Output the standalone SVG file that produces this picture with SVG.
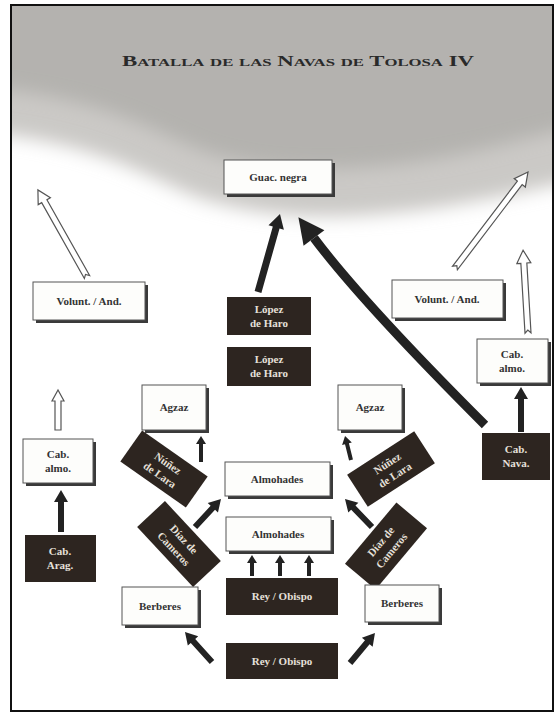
<svg xmlns="http://www.w3.org/2000/svg" width="556" height="717" viewBox="0 0 556 717">
<defs>
<style>
.wb{fill:#fdfdfb;stroke:#555;stroke-width:1}
.sh{fill:#3a3a3a}
.db{fill:#2d2520}
.wt{font-family:"Liberation Serif",serif;font-weight:bold;font-size:11px;fill:#333;text-anchor:middle}
.dt{font-family:"Liberation Serif",serif;font-weight:bold;font-size:11px;fill:#e6e0da;text-anchor:middle}
.sa{fill:#222}
.ha{fill:#fff;stroke:#555;stroke-width:1.2;stroke-linejoin:miter}
</style>
<filter id="blur" x="-20%" y="-20%" width="140%" height="140%"><feGaussianBlur stdDeviation="9"/></filter>
<clipPath id="frameclip"><rect x="11" y="5" width="542" height="706"/></clipPath>
</defs>
<rect width="556" height="717" fill="#fff"/>
<g id="background" clip-path="url(#frameclip)">
<path d="M-40 -40 H600 V175 C530 190 460 208 380 214 C310 220 250 214 200 198 C150 180 100 140 -40 130 Z" fill="#cbc9c6" filter="url(#blur)"/>
<path d="M-40 -40 H600 V120 C520 140 450 160 380 166 C310 172 250 168 200 150 C150 130 100 95 -40 85 Z" fill="#b4b2af" filter="url(#blur)"/>
</g>
<rect x="11" y="5" width="542" height="706" fill="none" stroke="#111" stroke-width="2"/>
<text x="298" y="66" font-family="Liberation Serif,serif" font-weight="bold" font-size="15" fill="#2a2a2a" text-anchor="middle" style="font-variant:small-caps" textLength="352" lengthAdjust="spacingAndGlyphs">Batalla de las Navas de Tolosa IV</text>

<g id="connectors">
<path class="sa" d="M0,-3.5 H67 V-8 L81,0 L67,8 V3.5 H0 Z" transform="translate(258,292) rotate(-74.25)"/>
<path d="M485 425 Q362 302 314 238" fill="none" stroke="#222" stroke-width="9"/>
<polygon class="sa" points="0,-13 26,0 0,13" transform="translate(314,238) rotate(-126.87)"/>
<path class="sa" d="M0,-3 H33 V-7 L45,0 L33,7 V3 H0 Z" transform="translate(521,432) rotate(-90)"/>
<path class="sa" d="M0,-3 H30 V-7 L42,0 L30,7 V3 H0 Z" transform="translate(61,532) rotate(-90)"/>
<path class="sa" d="M0,-2 H18 V-5 L26,0 L18,5 V2 H0 Z" transform="translate(201,462) rotate(-90)"/>
<path class="sa" d="M0,-2 H16.7 V-5 L24.7,0 L16.7,5 V2 H0 Z" transform="translate(351,460) rotate(-104)"/>
<path class="sa" d="M0,-3 H26.2 V-7 L38.2,0 L26.2,7 V3 H0 Z" transform="translate(195,527) rotate(-47.1)"/>
<path class="sa" d="M0,-3 H26.9 V-7 L38.9,0 L26.9,7 V3 H0 Z" transform="translate(372,527) rotate(-133.96)"/>
<path class="sa" d="M0,-2 H13 V-5 L21,0 L13,5 V2 H0 Z" transform="translate(252,576) rotate(-90)"/>
<path class="sa" d="M0,-2 H13 V-5 L21,0 L13,5 V2 H0 Z" transform="translate(280,576) rotate(-90)"/>
<path class="sa" d="M0,-2 H13 V-5 L21,0 L13,5 V2 H0 Z" transform="translate(309,576) rotate(-90)"/>
<path class="sa" d="M0,-3 H28.4 V-7 L40.4,0 L28.4,7 V3 H0 Z" transform="translate(212,662) rotate(-131.99)"/>
<path class="sa" d="M0,-3 H27 V-7 L39,0 L27,7 V3 H0 Z" transform="translate(350,663) rotate(-50.19)"/>
<path class="ha" d="M0,-3 H87 V-7 L100,0 L87,7 V3 H0 L3,0 Z" transform="translate(87,277) rotate(-119.4)"/>
<path class="ha" d="M0,-3 H107 V-7 L120.6,0 L107,7 V3 H0 L3,0 Z" transform="translate(455,268) rotate(-52.75)"/>
<path class="ha" d="M0,-3 H70 V-7 L83,0 L70,7 V3 H0 L3,0 Z" transform="translate(528,333) rotate(-93.4)"/>
<path class="ha" d="M0,-3 H29 V-6 L40,0 L29,6 V3 H0 Z" transform="translate(58,430) rotate(-90)"/>
</g>

<g id="guac"><rect class="sh" x="227" y="163" width="108" height="34"/><rect class="wb" x="224" y="160" width="108" height="34"/><text class="wt" x="278" y="181">Guac. negra</text></g>
<g id="volunt-l"><rect class="sh" x="36" y="285" width="112" height="38"/><rect class="wb" x="33" y="282" width="112" height="38"/><text class="wt" x="89" y="305">Volunt. / And.</text></g>
<g id="volunt-r"><rect class="sh" x="395" y="283" width="111" height="38"/><rect class="wb" x="392" y="280" width="111" height="38"/><text class="wt" x="447" y="303">Volunt. / And.</text></g>
<g id="lopez1"><rect class="db" x="227" y="297" width="84" height="38"/><text class="dt" x="269" y="313">López</text><text class="dt" x="269" y="327">de Haro</text></g>
<g id="lopez2"><rect class="db" x="227" y="347" width="84" height="39"/><text class="dt" x="269" y="363">López</text><text class="dt" x="269" y="377">de Haro</text></g>
<g id="calmo-r"><rect class="sh" x="480" y="342" width="71" height="44"/><rect class="wb" x="477" y="339" width="71" height="44"/><text class="wt" x="512" y="358">Cab.</text><text class="wt" x="512" y="372">almo.</text></g>
<g id="cnava"><rect class="db" x="482" y="433" width="68" height="47"/><text class="dt" x="516" y="453">Cab.</text><text class="dt" x="516" y="467">Nava.</text></g>
<g id="agzaz-l"><rect class="sh" x="145" y="388" width="64" height="45"/><rect class="wb" x="142" y="385" width="64" height="45"/><text class="wt" x="174" y="411">Agzaz</text></g>
<g id="agzaz-r"><rect class="sh" x="341" y="388" width="64" height="45"/><rect class="wb" x="338" y="385" width="64" height="45"/><text class="wt" x="370" y="411">Agzaz</text></g>
<g id="calmo-l"><rect class="sh" x="26" y="442" width="70" height="44"/><rect class="wb" x="23" y="439" width="70" height="44"/><text class="wt" x="58" y="458">Cab.</text><text class="wt" x="58" y="472">almo.</text></g>
<g id="carag"><rect class="db" x="25" y="535" width="71" height="47"/><text class="dt" x="60" y="555">Cab.</text><text class="dt" x="60" y="569">Arag.</text></g>
<g id="nunez-l" transform="translate(164,469) rotate(35)"><rect class="db" x="-40" y="-19" width="80" height="38"/><text class="dt" x="0" y="-3">Núñez</text><text class="dt" x="0" y="11">de Lara</text></g>
<g id="nunez-r" transform="translate(391,469) rotate(-33)"><rect class="db" x="-40" y="-19" width="80" height="38"/><text class="dt" x="0" y="-3">Núñez</text><text class="dt" x="0" y="11">de Lara</text></g>
<g id="almo1"><rect class="sh" x="228" y="465" width="105" height="34"/><rect class="wb" x="225" y="462" width="105" height="34"/><text class="wt" x="277" y="483">Almohades</text></g>
<g id="almo2"><rect class="sh" x="229" y="520" width="105" height="34"/><rect class="wb" x="226" y="517" width="105" height="34"/><text class="wt" x="278" y="538">Almohades</text></g>
<g id="diaz-l" transform="translate(179,544) rotate(47)"><rect class="db" x="-41" y="-19" width="82" height="38"/><text class="dt" x="0" y="-3">Díaz de</text><text class="dt" x="0" y="11">Cameros</text></g>
<g id="diaz-r" transform="translate(386,546) rotate(-50)"><rect class="db" x="-40" y="-20" width="80" height="40"/><text class="dt" x="0" y="-3">Díaz de</text><text class="dt" x="0" y="11">Cameros</text></g>
<g id="rey1"><rect class="db" x="226" y="578" width="112" height="37"/><text class="dt" x="282" y="600">Rey / Obispo</text></g>
<g id="rey2"><rect class="db" x="226" y="643" width="112" height="36"/><text class="dt" x="282" y="665">Rey / Obispo</text></g>
<g id="berb-l"><rect class="sh" x="125" y="590" width="76" height="38"/><rect class="wb" x="122" y="587" width="76" height="38"/><text class="wt" x="160" y="610">Berberes</text></g>
<g id="berb-r"><rect class="sh" x="368" y="588" width="74" height="37"/><rect class="wb" x="365" y="585" width="74" height="37"/><text class="wt" x="402" y="607">Berberes</text></g>
</svg>
